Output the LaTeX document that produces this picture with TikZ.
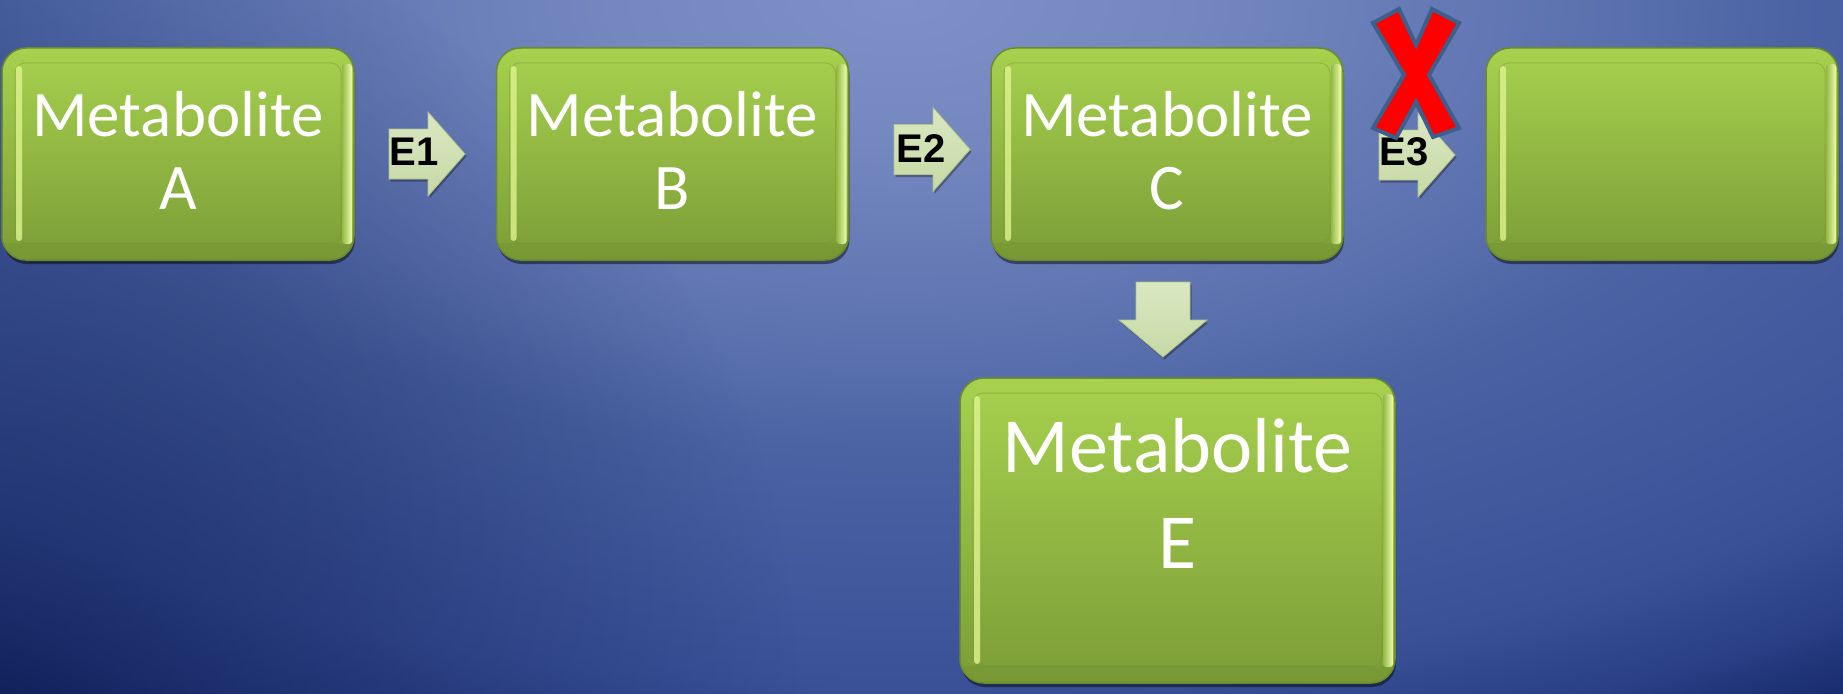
\documentclass[tikz,border=0pt]{standalone}
\usepackage{fontspec}
\newfontfamily\carl{Carlito}
\newfontfamily\arl{Liberation Sans}
\usetikzlibrary{calc,shadows,fadings}
\definecolor{bg0}{HTML}{7E90C8}
\definecolor{bg1}{HTML}{7487BF}
\definecolor{bg2}{HTML}{5A70AE}
\definecolor{bg3}{HTML}{4B63A3}
\definecolor{bg4}{HTML}{3A5198}
\definecolor{bg5}{HTML}{2A3F85}
\definecolor{bg6}{HTML}{1A2E70}
\definecolor{bg7}{HTML}{132766}
\definecolor{bgdeep}{HTML}{0C1B52}
\definecolor{gtop}{HTML}{A7D14E}
\definecolor{gbot}{HTML}{7C9D37}
\definecolor{gedge}{HTML}{6B8B2C}
\definecolor{gdark}{HTML}{6F8F2E}
\definecolor{gmid}{HTML}{93B944}
\definecolor{hlL}{HTML}{DDF48F}
\definecolor{hlR}{HTML}{EEFCB0}
\definecolor{arTop}{HTML}{DAE8C2}
\definecolor{arBot}{HTML}{C6D9A5}
\definecolor{arEdge}{HTML}{AFC48A}
\definecolor{xedge}{HTML}{3D5F8C}
\pgfdeclareradialshading{bgshade}{\pgfpoint{0bp}{0bp}}{color(0bp)=(bg0); color(4bp)=(bg1); color(10bp)=(bg2); color(12.5bp)=(bg3); color(19bp)=(bg4); color(21.5bp)=(bg5); color(23bp)=(bg6); color(25bp)=(bg7); color(50bp)=(bg7)}
\tikzfading[name=cornerfade, inner color=transparent!35, outer color=transparent!100]
\tikzset{
  metabox/.style={rounded corners=24pt, inner sep=0pt, align=center, text=white,
    top color=gtop, bottom color=gbot, draw=gedge, line width=1.5pt,
    drop shadow={shadow xshift=1pt, shadow yshift=-4pt, opacity=0.45, fill=black},
    path picture={
      \path (path picture bounding box.north west) coordinate (bvNW)
            (path picture bounding box.south east) coordinate (bvSE);
      \fill[gdark, opacity=.35, sharp corners] ($(bvNW|-bvSE)+(0,-17)$) rectangle (bvSE);
      \draw[gdark, opacity=.35, line width=1pt, rounded corners=10pt] ($(bvNW)+(13,15)$) rectangle ($(bvSE)+(-13,-17)$);
      \fill[hlL, opacity=.8, rounded corners=3pt] ($(bvNW)+(14,18)$) rectangle ($(bvNW|-bvSE)+(20,-19)$);
      \shade[left color=gmid, right color=hlR, rounded corners=3pt] ($(bvSE|-bvNW)+(-12,16)$) rectangle ($(bvSE)+(-2,-16)$);
    }},
  smallbox/.style={metabox, minimum width=352pt, minimum height=212pt,
    font=\carl\fontsize{65pt}{73pt}\selectfont, text depth=6.5pt},
  bigbox/.style={metabox, minimum width=435pt, minimum height=305pt,
    font=\carl\fontsize{78pt}{96pt}\selectfont, text depth=75pt},
  arrowshape/.style={top color=arTop, bottom color=arBot, draw=arEdge, line width=0.8pt,
    drop shadow={shadow xshift=1.5pt, shadow yshift=-2.5pt, opacity=0.3, fill=black}},
  elabel/.style={font=\arl\bfseries\fontsize{40pt}{40pt}\selectfont, text=black, inner sep=0pt},
  rarrow/.pic={\path[arrowshape] (0,-25) -- (39,-25) -- (39,-42) -- (76,0) -- (39,42) -- (39,25) -- (0,25) -- cycle;},
  darrow/.pic={\path[arrowshape] (-27,0) -- (27,0) -- (27,38) -- (44,38) -- (0,75) -- (-44,38) -- (-27,38) -- cycle;},
}
\begin{document}
\begin{tikzpicture}[x=1pt,y=-1pt]
\useasboundingbox (0,0) rectangle (1843,693);
\begin{scope}
  \clip (0,0) rectangle (1843,693);
  \shade[shading=bgshade] (900,0) ellipse [x radius=1800, y radius=900];
  \fill[bgdeep, path fading=cornerfade, fit fading=true] (0,693) circle [radius=800];
\end{scope}

\node[smallbox] (A) at (178,154) {Metabolite\\A};
\node[smallbox] (B) at (672.5,154) {Metabolite\\B};
\node[smallbox] (C) at (1167,154) {Metabolite\\C};
\node[smallbox] (D) at (1662,154) {};
\node[bigbox] (E) at (1177.5,530.5) {Metabolite\\E};

\pic at (389,154) {rarrow};
\pic at (894,149.5) {rarrow};
\pic at (1379,155) {rarrow};
\pic at (1163,282) {darrow};

\node[elabel] (e1) at (414,152) {E1};
\node[elabel] (e2) at (921,149) {E2};
\node[elabel] (e3) at (1404,152) {E3};

\filldraw[fill=red, draw=xedge, line width=4pt, line join=miter]
  (1373,23) -- (1399,9) -- (1416,45) -- (1432,9) -- (1459,23) -- (1429,75)
  -- (1459,128) -- (1433,137) -- (1416,102) -- (1396,138) -- (1373,128)
  -- (1404,75) -- cycle;
\end{tikzpicture}
\end{document}
